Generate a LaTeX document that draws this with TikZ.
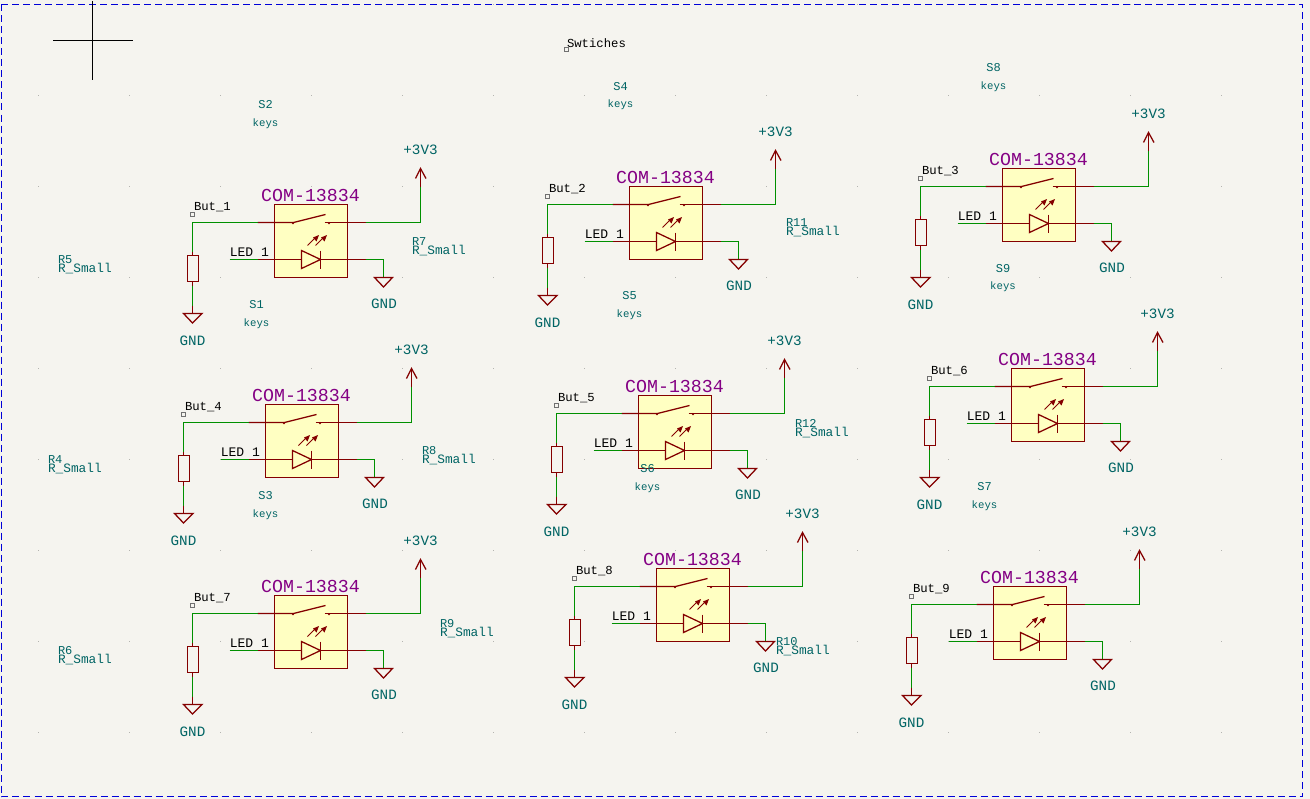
\documentclass[tikz,border=0pt]{standalone}
\usepackage{fontspec}
\setmainfont{Liberation Mono}
\tikzset{
  x=0.75pt,y=-0.75pt,
  wire/.style={draw=wiregreen,line width=0.95pt},
  pin/.style={draw=symred,line width=0.95pt},
  symbody/.style={draw=symred,line width=0.95pt,fill=symfill,minimum width=54.75pt,minimum height=54.75pt,inner sep=0pt,outer sep=0pt},
  resbody/.style={draw=symred,line width=0.95pt,minimum width=8.25pt,minimum height=19.5pt,inner sep=0pt,outer sep=0pt},
  txt/.style={inner sep=0pt,outer sep=0pt},
  comp/.style={txt,text=compurple,font=\fontsize{13.7pt}{14pt}\selectfont},
  power/.style={txt,text=teal6,font=\fontsize{10.7pt}{12pt}\selectfont},
  refs/.style={txt,text=teal6,font=\fontsize{9pt}{10pt}\selectfont},
  keyv/.style={txt,text=teal6,font=\fontsize{8pt}{10pt}\selectfont},
  val/.style={txt,text=teal6,font=\fontsize{9.6pt}{10pt}\selectfont},
  netl/.style={txt,text=black,font=\fontsize{9.2pt}{10pt}\selectfont},
  ledl/.style={txt,text=black,font=\fontsize{9.8pt}{10pt}\selectfont},
  flag/.style={draw=flaggrey,line width=0.5pt,minimum size=3pt,inner sep=0pt},
}
\definecolor{paper}{HTML}{F5F4EF}
\definecolor{wiregreen}{HTML}{009000}
\definecolor{symred}{HTML}{840000}
\definecolor{symfill}{HTML}{FFFFC2}
\definecolor{compurple}{HTML}{840084}
\definecolor{teal6}{HTML}{006464}
\definecolor{frameblue}{HTML}{0000D8}
\definecolor{flaggrey}{HTML}{707070}
\definecolor{griddot}{HTML}{B4B4B0}
\newcommand{\keycell}[4]{%
 \begin{scope}[shift={(#2+0.5,#3+0.5)}]
  \node[symbody] (box#1) at (310.5,240.5) {};
  \node[comp] (com#1) at (310,195) {COM-13834};
  % switch pins and blade
  \coordinate (swl#1) at (293,222);
  \coordinate (swr#1) at (324,222);
  \coordinate (pl#1) at (257,222);
  \coordinate (pr#1) at (365,222);
  \coordinate (blade#1) at (325,214);
  \draw[pin] (pl#1) -- (swl#1) -- (blade#1);
  \draw[pin] (swr#1) -- (pr#1);
  \fill[symred] (292.5,222.6) circle (1.2) (328.5,222.6) circle (1.2);
  % LED
  \coordinate (ll#1) at (257,259);
  \coordinate (lr#1) at (365,259);
  \coordinate (la#1) at (301,259);
  \coordinate (lk#1) at (320,259);
  \draw[pin] (ll#1) -- (la#1);
  \draw[pin] (lk#1) -- (lr#1);
  \draw[pin] (301,250) -- (320,259) -- (301,268) -- cycle;
  \draw[pin] (320,250) -- (320,268);
  \draw[symred,line width=0.7pt] (307,245) -- (315,237);
  \draw[symred,line width=0.7pt] (315,245) -- (323,237);
  \fill[symred] (318.5,234.5) -- (312.5,237) -- (316,241) -- cycle;
  \fill[symred] (326.5,234.5) -- (320.5,237) -- (324,241) -- cycle;
  % pull-down resistor
  \node[resbody] (res#1) at (192.5,268) {};
  \coordinate (but#1) at (192,222);
  \coordinate (rest#1) at (192,251);
  \coordinate (resb#1) at (192,285);
  \coordinate (gndl#1) at (192,305);
  \coordinate (gndlt#1) at (192,313);
  \draw[pin] (rest#1) -- (rest#1 |- res#1.north);
  \draw[pin] (resb#1 |- res#1.south) -- (resb#1);
  \draw[wire] (resb#1) -- (gndl#1);
  \draw[pin] (gndl#1) -- (gndlt#1);
  \draw[pin] (183,313) -- (201.5,313) -- (192,322.5) -- cycle;
  \node[power] (gndA#1) at (192,340) {GND};
  \draw[wire] (pl#1) -- (but#1) -- (rest#1);
  \node[flag] (flag#1) at (191.5,213.5) {};
  \node[netl,anchor=west] (butl#1) at (193.5,206.5) {#4};
  % LED net
  \coordinate (lw#1) at (229,259);
  \draw[wire] (lw#1) -- (ll#1);
  \node[ledl,anchor=west] (ledt#1) at (229.3,251.7) {LED 1};
  % LED cathode to GND
  \coordinate (gr#1) at (383,259);
  \coordinate (grt#1) at (383,277);
  \draw[wire] (lr#1) -- (gr#1) -- (grt#1);
  \draw[pin] (374,277) -- (392,277) -- (383,286.5) -- cycle;
  \node[power] (gndB#1) at (383.5,303) {GND};
  % switch to +3V3
  \coordinate (vc#1) at (420,222);
  \coordinate (vm#1) at (420,186);
  \coordinate (vt#1) at (420,168);
  \draw[wire] (pr#1) -- (vc#1) -- (vm#1);
  \draw[pin] (vm#1) -- (vt#1);
  \draw[pin] (415,178) -- (vt#1) -- (425.5,178);
  \node[power] (pwr#1) at (420,149) {+3V3};
 \end{scope}}
\newcommand{\refval}[6]{% name, x, yref, yval, ref, value; anchored west at x
  \node[refs,anchor=west] (#1r) at (#2,#3) {#5};
  \node[val,anchor=west] (#1v) at (#2,#4) {#6};}
\newcommand{\refkey}[6]{% name, x, yref, yval, ref, value; centred
  \node[refs] (#1r) at (#2,#3) {#5};
  \node[keyv] (#1v) at (#2,#4) {#6};}
\begin{document}
\begin{tikzpicture}
\useasboundingbox (0,0) rectangle (1310,799);
\fill[paper] (0,0) rectangle (1310,799);
% grid dots
\foreach \gx in {38,129,...,1222}{\foreach \gy in {4,95,186,...,733}{\fill[griddot] (\gx,\gy) rectangle (\gx+1.2,\gy+1.2);}}
% frame
\draw[frameblue,line width=1pt,dash pattern=on 5.25pt off 3pt] (1.5,4.5) rectangle (1302.5,796.5);
% crosshair
\draw[black,line width=0.95pt] (53,40.5) -- (133,40.5) (92.5,1) -- (92.5,80.5);
% sheet label
\node[flag] (swf) at (566,49.5) {};
\node[netl,anchor=west] (swt) at (567,43) {Swtiches};
% cells
\keycell{1}{0}{0}{But\_1}
\keycell{4}{-9}{200}{But\_4}
\keycell{7}{0}{391}{But\_7}
\keycell{2}{355}{-18}{But\_2}
\keycell{5}{364}{191}{But\_5}
\keycell{8}{382}{364}{But\_8}
\keycell{3}{728}{-36}{But\_3}
\keycell{6}{737}{164}{But\_6}
\keycell{9}{719}{382}{But\_9}
% references
\refkey{s2}{265.5}{104.5}{123.5}{S2}{keys}
\refkey{s1}{256.5}{304.5}{323.5}{S1}{keys}
\refkey{s4}{620.5}{86.5}{105}{S4}{keys}
\refkey{s8}{993.5}{68}{87}{S8}{keys}
\refkey{s5}{629.5}{296}{314.5}{S5}{keys}
\refkey{s9}{1003}{268.5}{287}{S9}{keys}
\refkey{s3}{265.5}{495.5}{514.5}{S3}{keys}
\refkey{s6}{647.5}{468.5}{487.5}{S6}{keys}
\refkey{s7}{984.5}{486.5}{505.5}{S7}{keys}
\refval{r5}{58}{259.5}{268.5}{R5}{R\_Small}
\refval{r7}{412}{241.5}{250.5}{R7}{R\_Small}
\refval{r4}{48}{459.5}{468.5}{R4}{R\_Small}
\refval{r8}{422}{450.5}{459.5}{R8}{R\_Small}
\refval{r11}{786}{223}{232}{R11}{R\_Small}
\refval{r12}{795}{423}{432.5}{R12}{R\_Small}
\refval{r9}{440}{623.5}{632.5}{R9}{R\_Small}
\refval{r6}{58}{650.5}{659.5}{R6}{R\_Small}
\refval{r10}{776}{641.5}{650.5}{R10}{R\_Small}
\end{tikzpicture}
\end{document}
